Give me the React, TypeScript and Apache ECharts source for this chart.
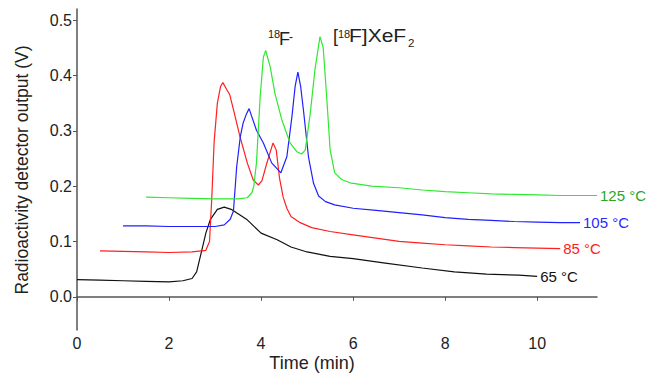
import React, { useEffect, useRef } from "react";
import * as echarts from "echarts";

const xTicks = [0, 2, 4, 6, 8, 10];
const yTicks = [0.0, 0.1, 0.2, 0.3, 0.4, 0.5];

const seriesNames = ["65 °C", "85 °C", "105 °C", "125 °C"];

const black65: number[][] = [
  [0, 0.031], [0.5, 0.03], [1, 0.029], [1.5, 0.028], [2, 0.027], [2.3, 0.029], [2.5, 0.033],
  [2.6, 0.045], [2.7, 0.08], [2.8, 0.115], [2.9, 0.14], [3.05, 0.158], [3.2, 0.162], [3.35, 0.158],
  [3.5, 0.15], [3.7, 0.139], [4.0, 0.115], [4.35, 0.103], [4.65, 0.09], [5.0, 0.081], [5.5, 0.073],
  [6, 0.069], [6.7, 0.061], [7.5, 0.052], [8.2, 0.045], [8.9, 0.041], [9.6, 0.039], [10, 0.037],
];

const red85: number[][] = [
  [0.5, 0.083], [1, 0.082], [1.5, 0.081], [2, 0.08], [2.5, 0.081], [2.8, 0.084], [2.88, 0.1],
  [2.93, 0.18], [2.98, 0.28], [3.05, 0.35], [3.12, 0.38], [3.17, 0.387], [3.25, 0.375], [3.32, 0.365],
  [3.4, 0.338], [3.54, 0.29], [3.7, 0.242], [3.83, 0.211], [3.94, 0.202], [4.02, 0.21], [4.12, 0.24],
  [4.26, 0.278], [4.33, 0.265], [4.4, 0.215], [4.48, 0.18], [4.56, 0.16], [4.65, 0.145], [4.85, 0.134],
  [5.1, 0.125], [5.5, 0.118], [6, 0.112], [6.5, 0.106], [7, 0.1], [7.5, 0.097], [8, 0.094],
  [8.5, 0.092], [9, 0.09], [9.5, 0.089], [10, 0.088], [10.5, 0.087],
];

const blue105: number[][] = [
  [1, 0.128], [1.5, 0.128], [2, 0.127], [2.5, 0.127], [3, 0.127], [3.2, 0.13], [3.33, 0.14],
  [3.4, 0.155], [3.47, 0.235], [3.55, 0.29], [3.61, 0.314], [3.68, 0.33], [3.74, 0.34], [3.8, 0.325],
  [3.9, 0.301], [4.05, 0.278], [4.23, 0.242], [4.43, 0.224], [4.56, 0.253], [4.67, 0.325], [4.74, 0.38],
  [4.8, 0.406], [4.86, 0.38], [4.92, 0.338], [5.03, 0.253], [5.14, 0.205], [5.25, 0.182], [5.4, 0.172],
  [5.6, 0.166], [6, 0.16], [6.5, 0.156], [7, 0.152], [7.5, 0.148], [8, 0.143], [8.5, 0.14],
  [9, 0.138], [9.5, 0.136], [10, 0.135], [10.5, 0.134], [10.93, 0.134],
];

const green125: number[][] = [
  [1.5, 0.18], [2, 0.179], [2.5, 0.178], [3, 0.177], [3.5, 0.177], [3.7, 0.179], [3.8, 0.188],
  [3.84, 0.199], [3.9, 0.242], [3.98, 0.361], [4.05, 0.433], [4.1, 0.445], [4.2, 0.415], [4.3, 0.368],
  [4.45, 0.32], [4.63, 0.278], [4.78, 0.262], [4.88, 0.258], [4.96, 0.265], [5.07, 0.332], [5.17, 0.41],
  [5.28, 0.47], [5.35, 0.45], [5.43, 0.356], [5.5, 0.266], [5.6, 0.224], [5.75, 0.212], [5.93, 0.206],
  [6.4, 0.2], [7, 0.197], [7.5, 0.193], [8, 0.19], [8.5, 0.188], [9, 0.186], [9.5, 0.185],
  [10, 0.184], [10.5, 0.183], [11.3, 0.183],
];

const FONT = "'Liberation Sans', Arial, sans-serif";

function txt(text: string, x: number, y: number, fontSize: number, extra: any = {}) {
  return {
    type: "text",
    x,
    y,
    ...extra,
    style: {
      text,
      fontSize,
      fontFamily: FONT,
      fill: "#222",
      align: "left",
      verticalAlign: "middle",
    },
  };
}

export default function App() {
  const ref = useRef<HTMLDivElement>(null);
  useEffect(() => {
    if (!ref.current) return;
    const chart = echarts.init(ref.current, undefined, { renderer: "svg" });
    const datasets = [black65, red85, blue105, green125];
    const lineColors = ["#111111", "#ff2020", "#2020ff", "#30e830"];
    const labelColors = ["#111111", "#ff2020", "#2a2aff", "#2aa52a"];
    chart.setOption({
      animation: false,
      grid: { left: 77, right: 50, top: 9, bottom: 45 },
      xAxis: {
        type: "value",
        min: 0,
        max: 11.3,
        axisLine: { show: true, lineStyle: { color: "#555", width: 1.5 } },
        axisTick: { show: true, length: 4, lineStyle: { color: "#555" }, customValues: xTicks },
        axisLabel: {
          customValues: xTicks,
          color: "#222",
          fontSize: 16,
          fontFamily: FONT,
          margin: 5,
        },
        splitLine: { show: false },
      },
      yAxis: {
        type: "value",
        min: -0.06,
        max: 0.52,
        axisLine: { show: true, lineStyle: { color: "#555", width: 1.5 } },
        axisTick: { show: true, length: 4, lineStyle: { color: "#555" }, customValues: yTicks },
        axisLabel: {
          customValues: yTicks,
          formatter: (v: number) => v.toFixed(1),
          color: "#222",
          fontSize: 16,
          fontFamily: FONT,
          margin: 5,
        },
        splitLine: { show: false },
      },
      series: datasets.map((d, i) => ({
        type: "line",
        name: seriesNames[i],
        data: d,
        showSymbol: false,
        symbol: "none",
        lineStyle: { color: lineColors[i], width: 1.2 },
        itemStyle: { color: lineColors[i] },
        endLabel: {
          show: true,
          formatter: seriesNames[i],
          color: labelColors[i],
          fontSize: 15,
          fontFamily: FONT,
          distance: 3,
        },
      })),
      graphic: [
        {
          type: "text",
          x: 22,
          y: 170,
          rotation: Math.PI / 2,
          style: {
            text: "Radioactivity detector output (V)",
            fontSize: 17.5,
            fontFamily: FONT,
            fill: "#222",
            align: "center",
            verticalAlign: "middle",
          },
        },
        {
          type: "text",
          x: 312,
          y: 363,
          scaleX: 1.03,
          style: {
            text: "Time (min)",
            fontSize: 17.5,
            fontFamily: FONT,
            fill: "#222",
            align: "center",
            verticalAlign: "middle",
          },
        },
        txt("18", 268, 34, 11),
        txt("F", 279, 38.5, 18),
        txt("-", 289, 37, 12),
        txt("[", 333, 36, 18),
        txt("18", 338, 33.5, 11),
        txt("F]XeF", 349, 36, 17.5, { scaleX: 1.2 }),
        txt("2", 408, 42.5, 11.5),
      ],
    });
    return () => chart.dispose();
  }, []);
  return <div ref={ref} style={{ width: 647, height: 375, position: "absolute", left: 0, top: 0 }} />;
}
